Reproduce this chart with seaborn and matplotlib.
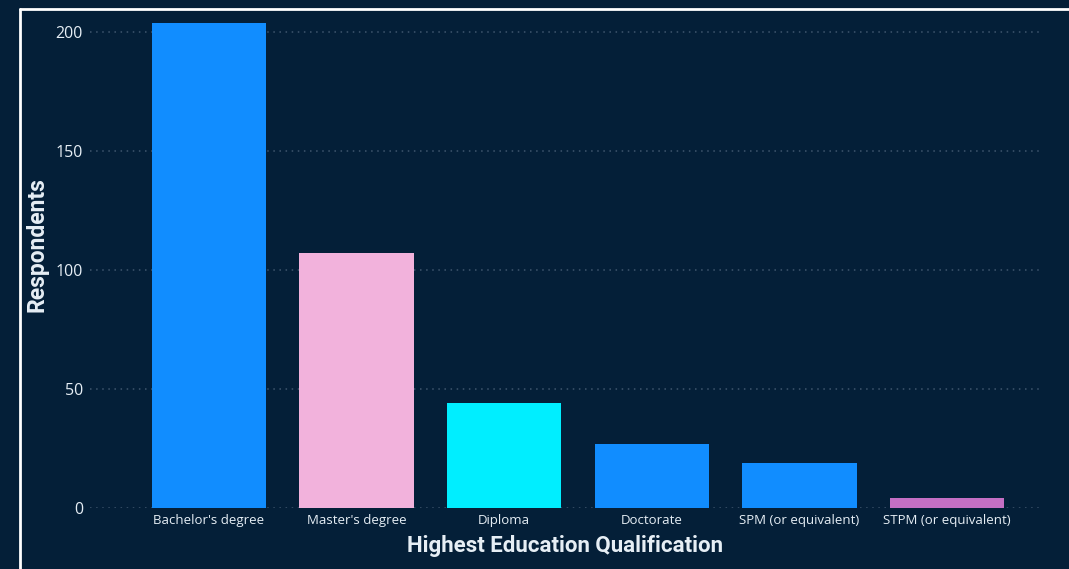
import matplotlib
matplotlib.use("Agg")
import matplotlib.pyplot as plt
from matplotlib.lines import Line2D
import seaborn as sns
import pandas as pd

# Survey results: highest education qualification of respondents
qualifications = [
    "Bachelor's degree",
    "Master's degree",
    "Diploma",
    "Doctorate",
    "SPM (or equivalent)",
    "STPM (or equivalent)",
]
respondents = [204, 107, 44, 27, 19, 4]
bar_colors = ["#118DFF", "#F2B2DC", "#00EEFF", "#118DFF", "#118DFF", "#C46FC4"]
y_ticks = [0, 50, 100, 150, 200]

BG = "#041F38"
TEXT = "#E6EEF5"
GRID = "#3F566E"

df = pd.DataFrame({"Qualification": qualifications, "Respondents": respondents})

sns.set_theme(style="dark")
plt.rcParams["font.family"] = ["Open Sans", "DejaVu Sans"]

W, H = 1069, 569
fig = plt.figure(figsize=(W / 100, H / 100), dpi=100, facecolor=BG)
ax = fig.add_axes([90 / W, (H - 508) / H, (1040 - 90) / W, (508 - 13) / H])
ax.set_facecolor(BG)

sns.barplot(
    data=df,
    x="Qualification",
    y="Respondents",
    hue="Qualification",
    palette=dict(zip(qualifications, bar_colors)),
    legend=False,
    width=0.775,
    saturation=1,
    linewidth=0,
    ax=ax,
    zorder=3,
)

ax.set_xlim(-0.806, 5.63)
ax.set_ylim(0, 208)
ax.set_yticks(y_ticks)
ax.set_yticklabels([str(v) for v in y_ticks])

ax.yaxis.grid(True, color=GRID, linestyle=(0, (1, 3)), linewidth=1.1, zorder=0)
ax.xaxis.grid(False)
for s in ax.spines.values():
    s.set_visible(False)

ax.tick_params(axis="y", colors=TEXT, labelsize=11.5, length=0, pad=5)
ax.tick_params(axis="x", colors=TEXT, labelsize=9.5, length=0, pad=4)

title_font = dict(color=TEXT, fontweight="bold", family=["Roboto", "DejaVu Sans"])
ax.set_xlabel("Highest Education Qualification", labelpad=6, fontsize=16, **title_font)
ax.set_ylabel("Respondents", fontsize=16.5, **title_font)
ax.yaxis.set_label_coords((48 - 90) / (1040 - 90), (508 - 245) / (508 - 13))

# White frame around the visual (top and left edges visible)
fx = 19.5 / W
fy = 1 - 9 / H
fig.add_artist(Line2D([fx, fx], [0, fy], transform=fig.transFigure,
                      color="white", linewidth=2))
fig.add_artist(Line2D([fx, 1], [fy, fy], transform=fig.transFigure,
                      color="white", linewidth=2))

fig.savefig("out.png", dpi=100, facecolor=BG)
